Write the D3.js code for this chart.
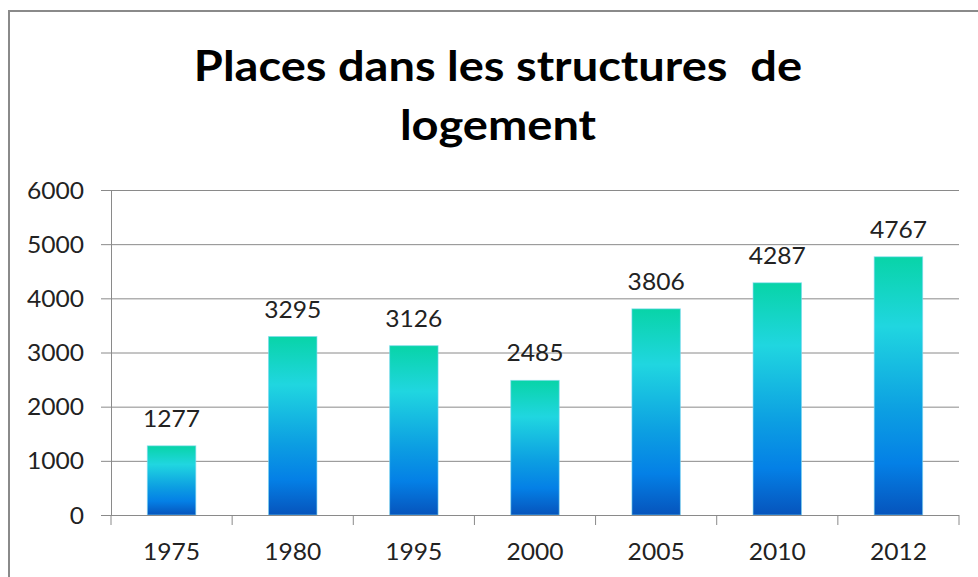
<!DOCTYPE html>
<html>
<head>
<meta charset="utf-8">
<script src="https://cdn.jsdelivr.net/npm/d3@7"></script>
<style>
  body { margin: 0; background: #fff; }
  svg { display: block; font-family: Lato, "Open Sans", sans-serif; }
</style>
</head>
<body>
<div id="chart"></div>
<script>
var width = 978;
var height = 577;

var years = ["1975", "1980", "1995", "2000", "2005", "2010", "2012"];
var places = [1277, 3295, 3126, 2485, 3806, 4287, 4767];
var yTicks = [0, 1000, 2000, 3000, 4000, 5000, 6000];
var titleLines = ["Places dans les structures\u00a0 de", "logement"];

var margin = {left: 111, right: 19, top: 190, bottom: 62};
var labelStretch = 1.07;   // reference text looks a bit wider than Lato
var titleStretch = 1.12;

var svg = d3.select("#chart").append("svg")
    .attr("width", width)
    .attr("height", height);

// bar gradient
var grad = svg.append("defs").append("linearGradient")
    .attr("id", "barGrad")
    .attr("x1", 0).attr("y1", 0).attr("x2", 0).attr("y2", 1);
grad.append("stop").attr("offset", "0%").attr("stop-color", "#08d4a8");
grad.append("stop").attr("offset", "27%").attr("stop-color", "#20d6e0");
grad.append("stop").attr("offset", "60%").attr("stop-color", "#0c9ee2");
grad.append("stop").attr("offset", "80%").attr("stop-color", "#0480e6");
grad.append("stop").attr("offset", "100%").attr("stop-color", "#0654bc");

// outer frame
svg.append("path")
    .attr("d", "M9," + height + "V11H" + width)
    .attr("fill", "none")
    .attr("stroke", "#8a8a8a")
    .attr("stroke-width", 2);

// title
svg.append("g").selectAll("text")
    .data(titleLines)
    .enter()
    .append("text")
        .attr("transform", function(d, i){
            return "translate(498," + (81 + i * 59) + ") scale(" + titleStretch + ",1)";
        })
        .attr("text-anchor", "middle")
        .attr("font-size", 42)
        .attr("font-weight", "bold")
        .attr("fill", "#000")
        .text(function(d){ return d; });

var x = d3.scaleBand()
    .domain(years)
    .range([margin.left, width - margin.right])
    .paddingInner(0.6)
    .paddingOuter(0.3);

var y = d3.scaleLinear()
    .domain([0, 6000])
    .range([height - margin.bottom, margin.top]);

// y axis
var yAxis = svg.append("g")
    .attr("transform", "translate(" + margin.left + ",0)")
    .call(d3.axisLeft(y).tickValues(yTicks).tickSize(10).tickFormat(d3.format("d")));
yAxis.select(".domain").attr("stroke", "#8a8a8a");
yAxis.selectAll(".tick line").attr("stroke", "#8a8a8a");
yAxis.selectAll(".tick text")
    .attr("x", 0)
    .attr("dy", "0.35em")
    .attr("transform", "translate(-27,0) scale(" + labelStretch + ",1)")
    .attr("font-size", 23)
    .attr("fill", "#222")
    .attr("font-family", "Lato, sans-serif");

// gridlines
svg.append("g").selectAll("line")
    .data(yTicks.slice(1))
    .enter()
    .append("line")
        .attr("x1", margin.left)
        .attr("x2", width - margin.right)
        .attr("y1", function(d){ return y(d) + 0.5; })
        .attr("y2", function(d){ return y(d) + 0.5; })
        .attr("stroke", "#8a8a8a")
        .attr("stroke-width", 1);

// bars
svg.append("g").selectAll("rect")
    .data(places)
    .enter()
    .append("rect")
        .attr("x", function(d, i){ return x(years[i]); })
        .attr("y", function(d){ return y(d); })
        .attr("width", x.bandwidth())
        .attr("height", function(d){ return y(0) - y(d); })
        .attr("fill", "url(#barGrad)")
        .attr("stroke", "#7fd8f0")
        .attr("stroke-opacity", 0.6)
        .attr("stroke-width", 1);

// x axis with category separators
var step = x.step();
var xAxis = svg.append("g")
    .attr("transform", "translate(0," + y(0) + ")");
xAxis.append("line")
    .attr("x1", margin.left).attr("x2", width - margin.right)
    .attr("y1", 0.5).attr("y2", 0.5)
    .attr("stroke", "#8a8a8a");
xAxis.selectAll(".sep")
    .data(d3.range(years.length + 1))
    .enter()
    .append("line")
        .attr("class", "sep")
        .attr("x1", function(i){ return margin.left + i * step; })
        .attr("x2", function(i){ return margin.left + i * step; })
        .attr("y1", 0).attr("y2", 10)
        .attr("stroke", "#8a8a8a");
xAxis.selectAll("text")
    .data(years)
    .enter()
    .append("text")
        .attr("transform", function(d){
            return "translate(" + (x(d) + x.bandwidth() / 2) + ",45) scale(" + labelStretch + ",1)";
        })
        .attr("text-anchor", "middle")
        .attr("font-size", 23)
        .attr("fill", "#222")
        .text(function(d){ return d; });

// value labels
svg.append("g").selectAll("text")
    .data(places)
    .enter()
    .append("text")
        .attr("transform", function(d, i){
            return "translate(" + (x(years[i]) + x.bandwidth() / 2) + "," + (y(d) - 19) + ") scale(" + labelStretch + ",1)";
        })
        .attr("text-anchor", "middle")
        .attr("font-size", 23)
        .attr("fill", "#222")
        .text(function(d){ return d; });
</script>
</body>
</html>
